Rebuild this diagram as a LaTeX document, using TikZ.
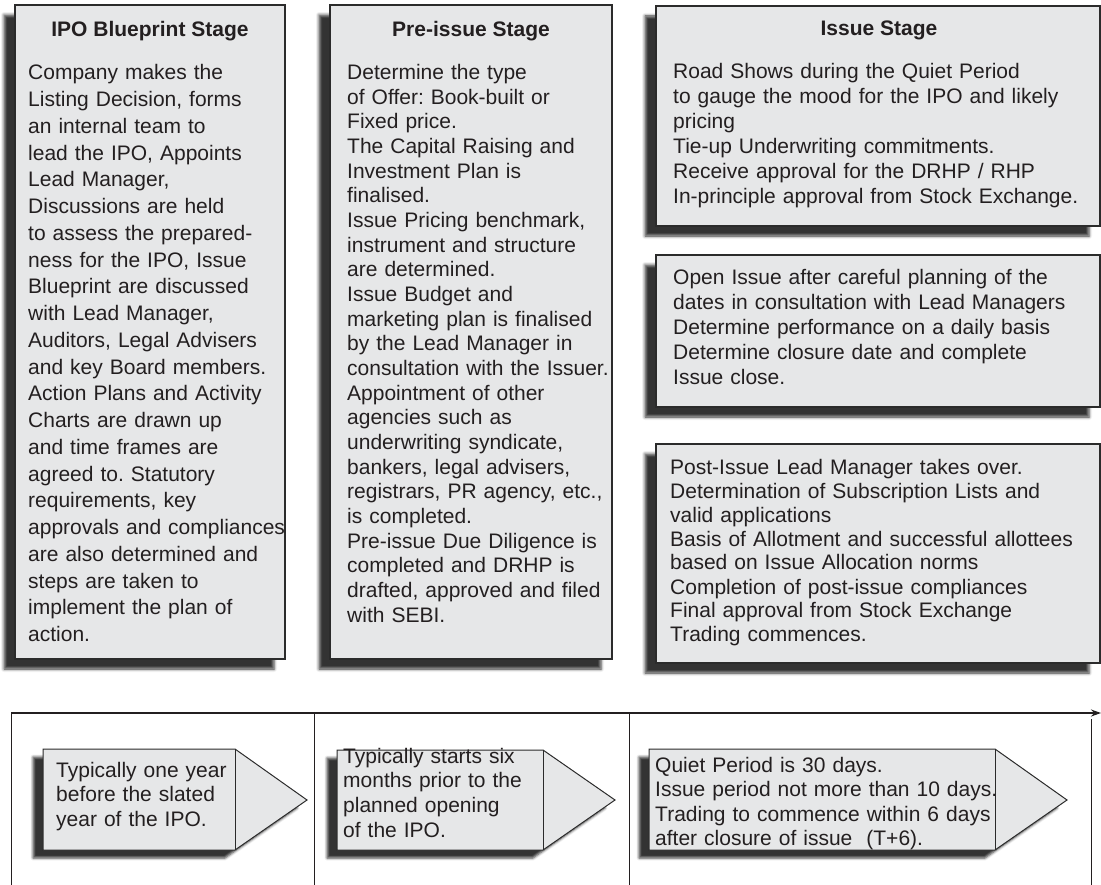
\documentclass[tikz,border=0pt]{standalone}
\usepackage{fontspec}
\setmainfont{Liberation Sans}
\usetikzlibrary{shadows.blur,arrows.meta}
\frenchspacing

\definecolor{boxfill}{HTML}{E6E7E8}
\definecolor{ink}{HTML}{231F20}
\definecolor{edge}{HTML}{2B2B2B}

\tikzset{
  panel/.style={fill=boxfill, draw=edge, line width=1.1pt,
    blur shadow={shadow xshift=-11pt, shadow yshift=-10pt,
                 shadow blur radius=3pt, shadow opacity=80}},
  tag/.style={fill=boxfill, draw=edge, line width=1pt,
    blur shadow={shadow xshift=-10pt, shadow yshift=-8pt,
                 shadow blur radius=2.5pt, shadow opacity=80}},
  heading/.style={anchor=base, inner sep=0pt, text=ink,
    font=\fontsize{21}{25}\selectfont\bfseries},
  body/.style={anchor=base west, inner sep=0pt, text width=430pt,
    align=left, text=ink},
  rule/.style={draw=ink, line width=0.9pt},
}

\begin{document}
\begin{tikzpicture}[x=1pt, y=-1pt]
\useasboundingbox (0,0) rectangle (1101,885);

% ---------- stage panels ----------
\path[panel] (15,5) rectangle (285,659);
\path[panel] (330,5) rectangle (612,659);
\path[panel] (656,6) rectangle (1100,226);
\path[panel] (656,255) rectangle (1100,407);
\path[panel] (656,444) rectangle (1100,663);

\node[heading] (h1) at (150,37) {IPO Blueprint Stage};
\node[heading] (h2) at (471,37) {Pre-issue Stage};
\node[heading] (h3) at (879,36) {Issue Stage};

\node[body, font=\fontsize{21}{26.75}\selectfont] (t1) at (28,80) {%
Company makes the\\
Listing Decision, forms\\
an internal team to\\
lead the IPO, Appoints\\
Lead Manager,\\
Discussions are held\\
to assess the prepared-\\
ness for the IPO, Issue\\
Blueprint are discussed\\
with Lead Manager,\\
Auditors, Legal Advisers\\
and key Board members.\\
Action Plans and Activity\\
Charts are drawn up\\
and time frames are\\
agreed to. Statutory\\
requirements, key\\
approvals and compliances\\
are also determined and\\
steps are taken to\\
implement the plan of\\
action.};

\node[body, font=\fontsize{21}{24.66}\selectfont] (t2) at (347,79.5) {%
Determine the type\\
of Offer: Book-built or\\
Fixed price.\\
The Capital Raising and\\
Investment Plan is\\
finalised.\\
Issue Pricing benchmark,\\
instrument and structure\\
are determined.\\
Issue Budget and\\
marketing plan is finalised\\
by the Lead Manager in\\
consultation with the Issuer.\\
Appointment of other\\
agencies such as\\
underwriting syndicate,\\
bankers, legal advisers,\\
registrars, PR agency, etc.,\\
is completed.\\
Pre-issue Due Diligence is\\
completed and DRHP is\\
drafted, approved and filed\\
with SEBI.};

\node[body, font=\fontsize{21}{25}\selectfont] (t3) at (673,79) {%
Road Shows during the Quiet Period\\
to gauge the mood for the IPO and likely\\
pricing\\
Tie-up Underwriting commitments.\\
Receive approval for the DRHP / RHP\\
In-principle approval from Stock Exchange.};

\node[body, font=\fontsize{21}{25}\selectfont] (t4) at (673,285) {%
Open Issue after careful planning of the\\
dates in consultation with Lead Managers\\
Determine performance on a daily basis\\
Determine closure date and complete\\
Issue close.};

\node[body, font=\fontsize{21}{24}\selectfont] (t5) at (670,474) {%
Post-Issue Lead Manager takes over.\\
Determination of Subscription Lists and\\
valid applications\\
Basis of Allotment and successful allottees\\
based on Issue Allocation norms\\
Completion of post-issue compliances\\
Final approval from Stock Exchange\\
Trading commences.};

% ---------- timeline frame ----------
\coordinate (tl) at (11,713);
\coordinate (tr) at (1101,713);
\coordinate (d1) at (314,713);
\coordinate (d2) at (629,713);
\coordinate (d3) at (1091,719);
\coordinate (bl) at (11,886);
\coordinate (b1) at (314,886);
\coordinate (b2) at (629,886);
\coordinate (b3) at (1091,886);

\draw[rule] (d1) -- (b1);
\draw[rule] (d2) -- (b2);
\draw[rule] (d3) -- (b3);
\draw[rule] (tl) -- (bl);
\draw[draw=ink, line width=1.9pt, -{Stealth[length=10pt,width=7pt]}] (tl) -- (tr);

% ---------- duration tags ----------
\path[tag] (43,749) -- (235,749) -- (307,800) -- (235,850) -- (43,850) -- cycle;
\draw[edge, line width=1pt] (235,749) -- (235,850);
\path[tag] (337,750) -- (543,750) -- (615,800) -- (543,850) -- (337,850) -- cycle;
\draw[edge, line width=1pt] (543,750) -- (543,850);
\path[tag] (649,749) -- (995,749) -- (1067,800) -- (995,850) -- (649,850) -- cycle;
\draw[edge, line width=1pt] (995,749) -- (995,850);

\node[body, font=\fontsize{21}{24.5}\selectfont] (a1) at (56,777) {%
Typically one year\\
before the slated\\
year of the IPO.};

\node[body, font=\fontsize{21}{24.7}\selectfont] (a2) at (343,763) {%
Typically starts six\\
months prior to the\\
planned opening\\
of the IPO.};

\node[body, font=\fontsize{21}{24.5}\selectfont] (a3) at (655,772) {%
Quiet Period is 30 days.\\
Issue period not more than 10 days.\\
Trading to commence within 6 days\\
after closure of issue~~(T+6).};

\end{tikzpicture}
\end{document}
